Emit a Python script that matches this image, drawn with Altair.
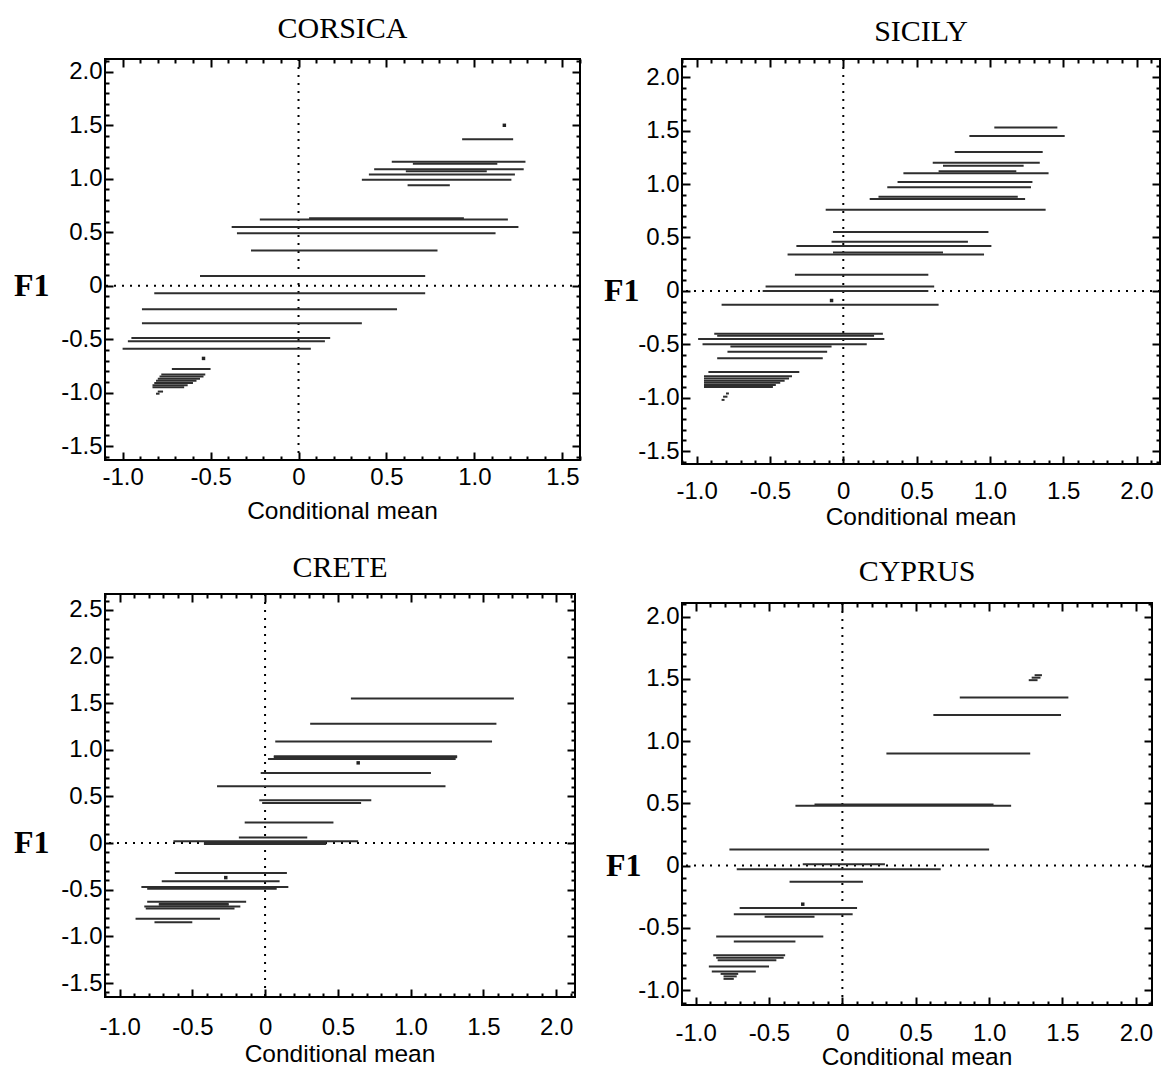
import altair as alt
import pandas as pd
import numpy as np

# ---------------- data (F1 level, lower and upper conditional mean) ----------------
corsica_y = [1.37, 1.16, 1.14, 1.09, 1.07, 1.04, 0.99, 0.94, 0.63, 0.62, 0.55, 0.49, 0.33,
             0.09, -0.07, -0.22, -0.35, -0.49, -0.52, -0.59, -0.78,
             -0.83, -0.85, -0.87, -0.89, -0.91, -0.93, -0.95, -0.99, -1.01]
corsica_lo = [0.93, 0.53, 0.65, 0.43, 0.61, 0.40, 0.36, 0.62, 0.06, -0.22, -0.38, -0.35, -0.27,
              -0.56, -0.82, -0.89, -0.89, -0.95, -0.97, -1.00, -0.72,
              -0.78, -0.79, -0.80, -0.81, -0.82, -0.83, -0.83, -0.80, -0.81]
corsica_hi = [1.22, 1.29, 1.13, 1.28, 1.07, 1.23, 1.21, 0.86, 0.94, 1.19, 1.25, 1.12, 0.79,
              0.72, 0.72, 0.56, 0.36, 0.18, 0.15, 0.07, -0.50,
              -0.53, -0.54, -0.56, -0.58, -0.60, -0.63, -0.65, -0.77, -0.79]
corsica_dot_x = [1.17, -0.54]
corsica_dot_y = [1.50, -0.68]

sicily_y = [1.53, 1.45, 1.30, 1.20, 1.17, 1.12, 1.10, 1.02, 0.97, 0.88, 0.86, 0.76, 0.55, 0.46,
            0.42, 0.36, 0.34, 0.15, 0.04, 0.00, -0.13, -0.40, -0.42, -0.45, -0.50, -0.52, -0.57,
            -0.63, -0.76, -0.80, -0.82, -0.84, -0.86, -0.88, -0.90, -0.96, -0.99, -1.02]
sicily_lo = [1.03, 0.86, 0.76, 0.61, 0.68, 0.65, 0.41, 0.37, 0.30, 0.24, 0.18, -0.12, -0.07, -0.08,
             -0.32, -0.07, -0.38, -0.33, -0.53, -0.55, -0.83, -0.88, -0.86, -0.99, -0.96, -0.77, -0.79,
             -0.86, -0.92, -0.95, -0.95, -0.95, -0.95, -0.95, -0.95, -0.80, -0.82, -0.83]
sicily_hi = [1.46, 1.51, 1.36, 1.34, 1.23, 1.18, 1.40, 1.29, 1.28, 1.19, 1.24, 1.38, 0.99, 0.85,
             1.01, 0.68, 0.96, 0.58, 0.62, 0.58, 0.65, 0.27, 0.21, 0.28, 0.16, -0.08, -0.11,
             -0.14, -0.30, -0.35, -0.37, -0.40, -0.43, -0.46, -0.48, -0.78, -0.79, -0.81]
sicily_dot_x = [-0.08]
sicily_dot_y = [-0.09]

crete_y = [1.55, 1.28, 1.09, 0.93, 0.92, 0.90, 0.75, 0.61, 0.46, 0.43, 0.22, 0.06, 0.02, 0.00,
           -0.01, -0.32, -0.41, -0.47, -0.49, -0.63, -0.65, -0.66, -0.68, -0.70, -0.81, -0.85]
crete_lo = [0.59, 0.31, 0.07, 0.06, 0.06, 0.02, -0.03, -0.33, -0.04, -0.02, -0.14, -0.18, -0.63, -0.42,
            -0.42, -0.62, -0.71, -0.85, -0.81, -0.81, -0.73, -0.73, -0.83, -0.82, -0.89, -0.76]
crete_hi = [1.71, 1.59, 1.56, 1.32, 1.32, 1.31, 1.14, 1.24, 0.73, 0.66, 0.47, 0.29, 0.64, 0.42,
            0.42, 0.15, 0.10, 0.16, 0.08, -0.13, -0.25, -0.25, -0.17, -0.21, -0.31, -0.50]
crete_dot_x = [0.64, -0.27]
crete_dot_y = [0.86, -0.37]

cyprus_y = [1.53, 1.51, 1.49, 1.35, 1.21, 0.90, 0.49, 0.48, 0.13, 0.01, -0.03, -0.13, -0.34,
            -0.39, -0.41, -0.57, -0.61, -0.72, -0.74, -0.76, -0.81, -0.85, -0.87, -0.89, -0.91]
cyprus_lo = [1.31, 1.29, 1.27, 0.80, 0.62, 0.30, -0.19, -0.32, -0.77, -0.27, -0.72, -0.36, -0.70,
             -0.74, -0.53, -0.86, -0.74, -0.88, -0.86, -0.85, -0.91, -0.89, -0.83, -0.81, -0.81]
cyprus_hi = [1.36, 1.35, 1.33, 1.54, 1.49, 1.28, 1.03, 1.15, 1.00, 0.29, 0.67, 0.14, 0.10,
             0.07, -0.19, -0.13, -0.32, -0.39, -0.40, -0.45, -0.50, -0.59, -0.71, -0.72, -0.74]
cyprus_dot_x = [-0.27]
cyprus_dot_y = [-0.31]

X_TITLE = "Conditional mean"
Y_TITLE = "F1"

LABEL_EXPR = ("abs(datum.value) < 1e-9 ? '0' : "
              "(datum.value < 0 ? '-' : '') + format(abs(datum.value), '.1f')")
SANS = "Liberation Sans"
SERIF = "Liberation Serif"


def ticks(lo, hi, step):
    start = np.ceil(lo / step - 1e-9) * step
    vals = np.arange(start, hi + 1e-9, step)
    return [float(round(v, 2)) for v in vals]


def panel(name, ys, lo, hi, dx, dy, xdom, ydom, w, h, f1_dist, title_off, lab_pad, cm_off):
    seg = pd.DataFrame({"y": ys, "lo": lo, "hi": hi})
    dots = pd.DataFrame({"x": dx, "y": dy})
    zero = pd.DataFrame({"v": [0.0]})
    xs = alt.Scale(domain=xdom, nice=False, zero=False)
    ysc = alt.Scale(domain=ydom, nice=False, zero=False)
    majx = ticks(xdom[0], xdom[1], 0.5)
    majy = ticks(ydom[0], ydom[1], 0.5)
    minx = [v for v in ticks(xdom[0], xdom[1], 0.1) if min(abs(v - m) for m in majx) > 1e-6]
    miny = [v for v in ticks(ydom[0], ydom[1], 0.1) if min(abs(v - m) for m in majy) > 1e-6]

    common = dict(domain=False, grid=False, tickColor="black", tickWidth=2,
                  minExtent=0, title=None)

    ax_b = alt.Axis(orient="bottom", values=majx, tickSize=8, offset=-8, labelExpr=LABEL_EXPR,
                    labelFont=SANS, labelFontSize=24, labelColor="black", labelPadding=lab_pad,
                    labelFlush=False, labelOverlap=False, **common)
    ax_l = alt.Axis(orient="left", values=majy, tickSize=8, offset=-8, labelExpr=LABEL_EXPR,
                    labelFont=SANS, labelFontSize=24, labelColor="black", labelPadding=3,
                    labelFlush=False, labelOverlap=False, **common)
    ax_b_min = alt.Axis(orient="bottom", values=minx, tickSize=4, offset=-4, labels=False,
                        maxExtent=0, **common)
    ax_l_min = alt.Axis(orient="left", values=miny, tickSize=4, offset=-4, labels=False,
                        maxExtent=0, **common)
    ax_t = alt.Axis(orient="top", values=majx, tickSize=8, offset=-8, labels=False,
                    maxExtent=0, **common)
    ax_r = alt.Axis(orient="right", values=majy, tickSize=8, offset=-8, labels=False,
                    maxExtent=0, **common)
    ax_t_min = alt.Axis(orient="top", values=minx, tickSize=4, offset=-4, labels=False,
                        maxExtent=0, **common)
    ax_r_min = alt.Axis(orient="right", values=miny, tickSize=4, offset=-4, labels=False,
                        maxExtent=0, **common)

    segs = alt.Chart(seg).mark_rule(strokeWidth=2, color="#2e2e2e").encode(
        x=alt.X("lo:Q", scale=xs, axis=ax_b), x2="hi:Q",
        y=alt.Y("y:Q", scale=ysc, axis=ax_l))

    def ghost(axx, axy):
        return alt.Chart(seg).mark_point(opacity=0).encode(
            x=alt.X("lo:Q", scale=xs, axis=axx), y=alt.Y("y:Q", scale=ysc, axis=axy))

    vline = alt.Chart(zero).mark_rule(strokeDash=[2, 6], strokeWidth=2, color="black").encode(
        x=alt.X("v:Q", scale=xs, axis=None))
    hline = alt.Chart(zero).mark_rule(strokeDash=[2, 6], strokeWidth=2, color="black").encode(
        y=alt.Y("v:Q", scale=ysc, axis=None))
    pts = alt.Chart(dots).mark_square(size=12, color="#222222", opacity=1).encode(
        x=alt.X("x:Q", scale=xs, axis=None), y=alt.Y("y:Q", scale=ysc, axis=None))

    title_txt = alt.Chart(zero).mark_text(
        text=name, font=SERIF, fontSize=30, align="center", baseline="alphabetic",
        color="black").encode(x=alt.value(w / 2), y=alt.value(-title_off))
    f1_txt = alt.Chart(zero).mark_text(
        text=Y_TITLE, font=SERIF, fontSize=32, fontWeight="bold", align="left",
        baseline="middle", color="black").encode(
        x=alt.value(-f1_dist), y=alt.Y("v:Q", scale=ysc, axis=None))
    cm_txt = alt.Chart(zero).mark_text(
        text=X_TITLE, font=SANS, fontSize=24.5, align="center", baseline="middle",
        color="black").encode(x=alt.value(w / 2), y=alt.value(h + cm_off))

    layer = alt.layer(
        vline, hline, segs,
        ghost(ax_b_min, ax_l_min), ghost(ax_t, ax_r), ghost(ax_t_min, ax_r_min),
        pts, title_txt, f1_txt, cm_txt,
    ).resolve_axis(x="independent", y="independent").properties(width=w, height=h)
    return layer


corsica = panel("CORSICA", corsica_y, corsica_lo, corsica_hi, corsica_dot_x, corsica_dot_y,
                [-1.1, 1.6], [-1.63, 2.12], 475, 401, 91, 21, 5, 52)
sicily = panel("SICILY", sicily_y, sicily_lo, sicily_hi, sicily_dot_x, sicily_dot_y,
               [-1.1, 2.16], [-1.62, 2.17], 478, 405, 78, 18, 15, 54)
crete = panel("CRETE", crete_y, crete_lo, crete_hi, crete_dot_x, crete_dot_y,
              [-1.1, 2.13], [-1.65, 2.67], 470, 403, 91, 17, 18, 58)
cyprus = panel("CYPRUS", cyprus_y, cyprus_lo, cyprus_hi, cyprus_dot_x, cyprus_dot_y,
               [-1.093, 2.11], [-1.12, 2.11], 470, 402, 76, 22, 16, 53)

chart = alt.hconcat(
    alt.vconcat(corsica, crete, spacing=27),
    alt.vconcat(sicily, cyprus, spacing=25),
    spacing=21,
).properties(
    padding={"left": 13, "top": 13, "right": 0, "bottom": 0},
    background="white",
).configure_view(stroke="black", strokeWidth=2)

chart.save("out.html", embed_options={"renderer": "svg", "actions": False})
